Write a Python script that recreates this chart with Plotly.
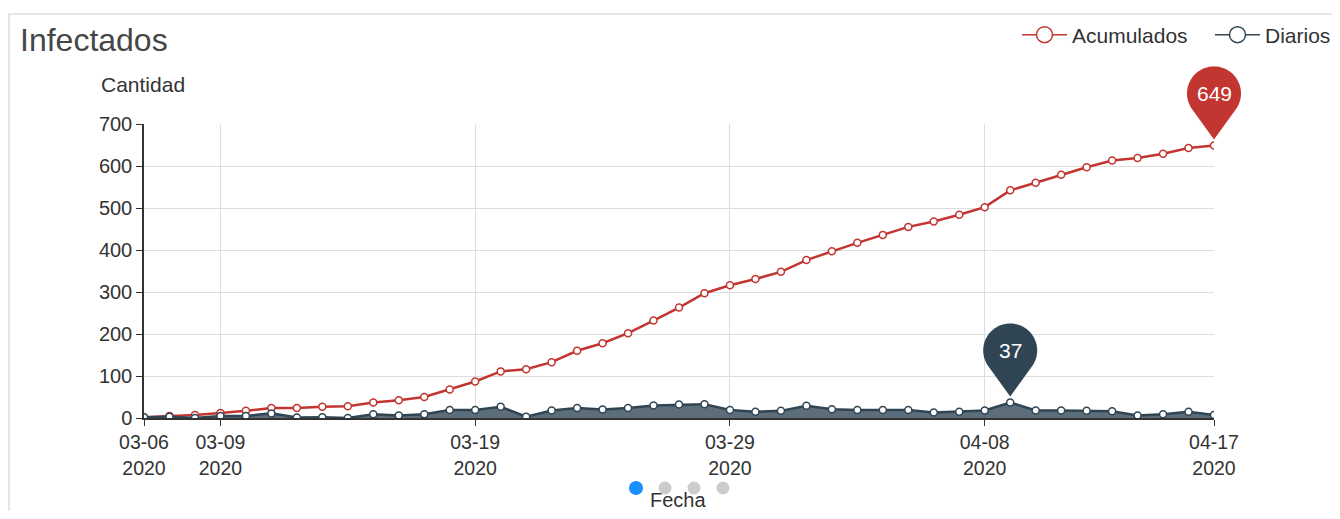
import plotly.graph_objects as go
import pandas as pd
import math

# ---------------- data ----------------
start_date = "2020-03-06"
n_days = 43
dates = pd.date_range(start_date, periods=n_days, freq="D")

acumulados = [2, 5, 7, 12, 17, 24, 24, 27, 28, 37, 42, 50, 68, 87, 111, 116, 133,
              160, 178, 202, 232, 263, 297, 316, 331, 348, 376, 397, 417, 436, 455,
              468, 484, 502, 542, 560, 579, 597, 613, 619, 629, 643, 649]
diarios = [2, 3, 0, 5, 5, 11, 1, 2, 0, 9, 6, 9, 19, 19, 27, 3, 18, 24, 20, 24, 30,
           32, 33, 19, 15, 17, 29, 21, 19, 19, 19, 13, 15, 18, 37, 18, 18, 17, 16,
           6, 9, 15, 7]

tick_dates = ["2020-03-06", "2020-03-09", "2020-03-19", "2020-03-29", "2020-04-08", "2020-04-17"]
tick_text = ["03-06<br>2020", "03-09<br>2020", "03-19<br>2020", "03-29<br>2020",
             "04-08<br>2020", "04-17<br>2020"]
y_ticks = [0, 100, 200, 300, 400, 500, 600, 700]
y_range = [0, 700]
x_range = [dates[0], dates[-1]]

RED = "#c23531"
DARK = "#2f4554"
FONT = "Liberation Sans, Arial, sans-serif"

# figure sits at an 8px page offset; size it so no scrollbars appear
OFF = 8
W, H = 1324, 503
ML, MT = 144 - OFF, 124 - OFF
PW, PH = 1070, 294
MR = W - ML - PW
MB = H - MT - PH


def px2paper_x(px):  # px in reference-screen pixels
    return (px - OFF - ML) / PW


def px2paper_y(py):
    return (MT + PH - (py - OFF)) / PH


def pin_path(r=27.0, cy=52.0, tip=6.0, n=48):
    d = cy - tip
    a = math.acos(r / d)
    pts = [(0.0, tip)]
    start = -math.pi / 2 + a
    end = 3 * math.pi / 2 - a
    for i in range(n + 1):
        t = start + (end - start) * i / n
        pts.append((r * math.cos(t), cy + r * math.sin(t)))
    s = "M %.2f,%.2f " % pts[0]
    s += " ".join("L %.2f,%.2f" % p for p in pts[1:])
    return s + " Z"


fig = go.Figure()

fig.add_trace(go.Scatter(
    x=dates, y=acumulados, name="Acumulados", mode="lines+markers",
    line=dict(color=RED, width=2.5),
    marker=dict(symbol="circle", size=7, color="white", line=dict(color=RED, width=1.5)),
    showlegend=False, hoverinfo="x+y",
))
fig.add_trace(go.Scatter(
    x=dates, y=diarios, name="Diarios", mode="lines+markers",
    line=dict(color=DARK, width=2.5),
    fill="tozeroy", fillcolor="rgba(47,69,84,0.78)",
    marker=dict(symbol="circle", size=7, color="white", line=dict(color=DARK, width=1.5)),
    showlegend=False, hoverinfo="x+y",
))
for nm, col, lw in [("Acumulados", RED, 133), ("Diarios", DARK, 60)]:
    fig.add_trace(go.Scatter(
        x=[None], y=[None], name=nm, mode="lines+markers", legendwidth=lw,
        line=dict(color=col, width=1.5),
        marker=dict(symbol="circle", size=18, color="white", line=dict(color=col, width=1.5)),
    ))

shapes = []
annotations = []

# mark points (max of each series), positioned from the axis ranges
x_span = (x_range[1] - x_range[0]).total_seconds()
for series, col in [(acumulados, RED), (diarios, DARK)]:
    i = max(range(len(series)), key=lambda k: series[k])
    xa = (dates[i] - x_range[0]).total_seconds() / x_span
    ya = (series[i] - y_range[0]) / (y_range[1] - y_range[0])
    shapes.append(dict(
        type="path", xref="paper", yref="paper", xsizemode="pixel", ysizemode="pixel",
        xanchor=xa, yanchor=ya, path=pin_path(),
        fillcolor=col, line=dict(width=0), layer="above",
    ))
    annotations.append(dict(
        x=dates[i], y=series[i], xref="x", yref="y", yshift=52, showarrow=False,
        text=str(series[i]), font=dict(family=FONT, size=21, color="white"),
    ))

# card border
shapes.append(dict(type="rect", xref="paper", yref="paper",
                   x0=px2paper_x(9), x1=px2paper_x(1400),
                   y0=px2paper_y(560), y1=px2paper_y(14),
                   line=dict(color="#e6e6e6", width=2), layer="below"))

# pager dots under the axis
dot_specs = [(636, 7, "#1890ff"), (665, 6.5, "#cccccc"), (694, 6.5, "#cccccc"), (723, 6.5, "#cccccc")]
for cx, r, c in dot_specs:
    shapes.append(dict(type="circle", xref="paper", yref="paper",
                       x0=px2paper_x(cx - r), x1=px2paper_x(cx + r),
                       y0=px2paper_y(488 + r), y1=px2paper_y(488 - r),
                       fillcolor=c, line=dict(width=0)))

annotations.append(dict(x=px2paper_x(678), y=px2paper_y(500), xref="paper", yref="paper",
                        text="Fecha", showarrow=False, xanchor="center", yanchor="middle",
                        font=dict(family=FONT, size=20, color="#333")))
annotations.append(dict(x=px2paper_x(143), y=px2paper_y(85), xref="paper", yref="paper",
                        text="Cantidad", showarrow=False, xanchor="center", yanchor="middle",
                        font=dict(family=FONT, size=21, color="#333")))

fig.update_layout(
    width=W, height=H,
    margin=dict(l=ML, r=MR, t=MT, b=MB, autoexpand=False),
    paper_bgcolor="white", plot_bgcolor="white",
    font=dict(family=FONT, size=20, color="#333"),
    title=dict(text="Infectados", x=(20 - OFF) / W, xanchor="left",
               y=1 - (40 - OFF) / H, yanchor="middle",
               font=dict(family=FONT, size=32, color="#464646")),
    legend=dict(orientation="h", x=px2paper_x(1017), xanchor="left",
                y=px2paper_y(35), yanchor="middle",
                font=dict(family=FONT, size=21, color="#333"),
                itemwidth=45, bgcolor="rgba(0,0,0,0)"),
    xaxis=dict(
        type="date", range=x_range,
        tickmode="array", tickvals=tick_dates, ticktext=tick_text,
        showgrid=True, gridcolor="#dddddd", gridwidth=1,
        showline=True, linecolor="#333", linewidth=1.5,
        ticks="outside", ticklen=6, tickcolor="#333",
        tickfont=dict(family=FONT, size=19.5, color="#333"),
        zeroline=False, fixedrange=True,
    ),
    yaxis=dict(
        range=y_range, tickmode="array", tickvals=y_ticks,
        showgrid=True, gridcolor="#dddddd", gridwidth=1,
        showline=True, linecolor="#333", linewidth=1.5,
        ticks="outside", ticklen=6, tickcolor="#333",
        tickfont=dict(family=FONT, size=20, color="#333"),
        zeroline=False, fixedrange=True,
    ),
    shapes=shapes, annotations=annotations,
)

fig.write_html("out.html", config={"displayModeBar": False})
